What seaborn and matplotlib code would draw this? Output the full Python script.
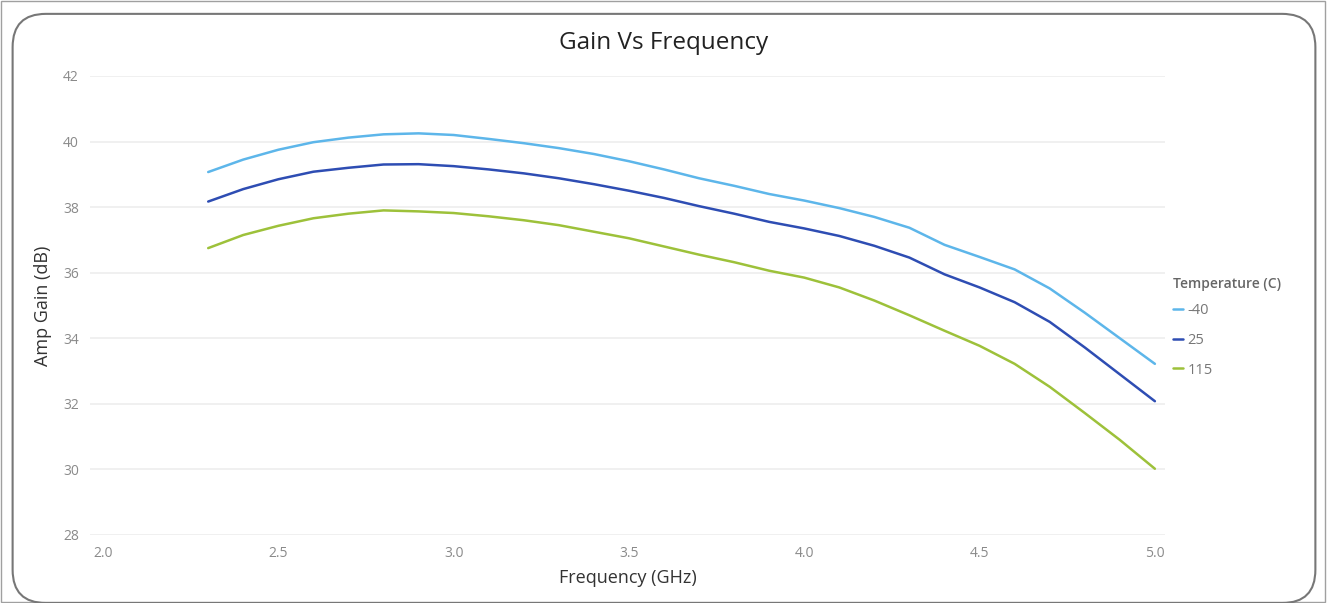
import pandas as pd
import seaborn as sns
import matplotlib.pyplot as plt
from matplotlib.patches import FancyBboxPatch, Rectangle

freq = [2.3, 2.4, 2.5, 2.6, 2.7, 2.8, 2.9, 3.0, 3.1, 3.2, 3.3, 3.4, 3.5, 3.6,
        3.7, 3.8, 3.9, 4.0, 4.1, 4.2, 4.3, 4.4, 4.5, 4.6, 4.7, 4.8, 4.9, 5.0]
gain_m40 = [39.07, 39.45, 39.75, 39.98, 40.12, 40.22, 40.25, 40.2, 40.08, 39.95,
            39.8, 39.62, 39.4, 39.15, 38.88, 38.65, 38.4, 38.2, 37.97, 37.7,
            37.37, 36.85, 36.48, 36.1, 35.52, 34.78, 34.0, 33.22]
gain_25 = [38.17, 38.55, 38.85, 39.08, 39.2, 39.3, 39.31, 39.25, 39.15, 39.03,
           38.88, 38.7, 38.5, 38.28, 38.03, 37.8, 37.55, 37.35, 37.12, 36.82,
           36.46, 35.95, 35.55, 35.1, 34.5, 33.72, 32.9, 32.08]
gain_115 = [36.75, 37.15, 37.43, 37.66, 37.8, 37.9, 37.87, 37.82, 37.72, 37.6,
            37.45, 37.25, 37.05, 36.8, 36.55, 36.32, 36.06, 35.85, 35.55, 35.15,
            34.7, 34.23, 33.77, 33.22, 32.52, 31.72, 30.9, 30.02]
temps = ['-40', '25', '115']
colors = ['#5DB6EA', '#2E4DB3', '#9DC13A']

df = pd.DataFrame({
    'Frequency': freq * 3,
    'Gain': gain_m40 + gain_25 + gain_115,
    'Temperature': [t for t in temps for _ in freq],
})

sns.set_style('white')
plt.rcParams['font.family'] = ['Open Sans', 'DejaVu Sans']

fig = plt.figure(figsize=(13.28, 6.03), dpi=100)
ax = fig.add_axes([0.0678, 0.1128, 0.8095, 0.7612])

sns.lineplot(data=df, x='Frequency', y='Gain', hue='Temperature',
             hue_order=temps, palette=colors, linewidth=1.8, ax=ax)

ax.set_xlim(1.963, 5.029)
ax.set_ylim(28, 42)
ax.set_xticks([2.0, 2.5, 3.0, 3.5, 4.0, 4.5, 5.0])
ax.set_xticklabels(['2.0', '2.5', '3.0', '3.5', '4.0', '4.5', '5.0'])
ax.set_yticks(range(28, 43, 2))
ax.grid(axis='y', color='#EEEEEE', linewidth=1.2)
for s in ax.spines.values():
    s.set_visible(False)
ax.tick_params(colors='#8A8A8A', labelsize=10, length=0, pad=8)
ax.set_xlabel('Frequency (GHz)', fontsize=13, color='#333333', labelpad=6)
ax.set_ylabel('Amp Gain (dB)', fontsize=13, color='#333333', labelpad=8)
fig.text(0.5, 0.928, 'Gain Vs Frequency', fontsize=17.5, color='#222222',
         ha='center', va='center')

leg = ax.legend(title='Temperature (C)', loc='upper left',
                bbox_to_anchor=(0.995, 0.591), frameon=False, fontsize=10.5,
                title_fontsize=10, handlelength=0.7, handletextpad=0.3,
                labelspacing=1.0, alignment='left')
leg.get_title().set_color('#666666')
leg.get_title().set_fontweight('semibold')
leg._legend_box.sep = 9
for t in leg.get_texts():
    t.set_color('#777777')

fig.patches.append(Rectangle((0.001, 0.002), 0.997, 0.996, transform=fig.transFigure,
                             fill=False, edgecolor='#A0A0A0', linewidth=1))
fig.patches.append(FancyBboxPatch((0.0095, 0.0), 0.981, 0.977,
                                  boxstyle='round,pad=0,rounding_size=0.025',
                                  transform=fig.transFigure, fill=False,
                                  edgecolor='#777777', linewidth=1.5,
                                  mutation_aspect=2.2))

fig.savefig('out.png', dpi=100)
